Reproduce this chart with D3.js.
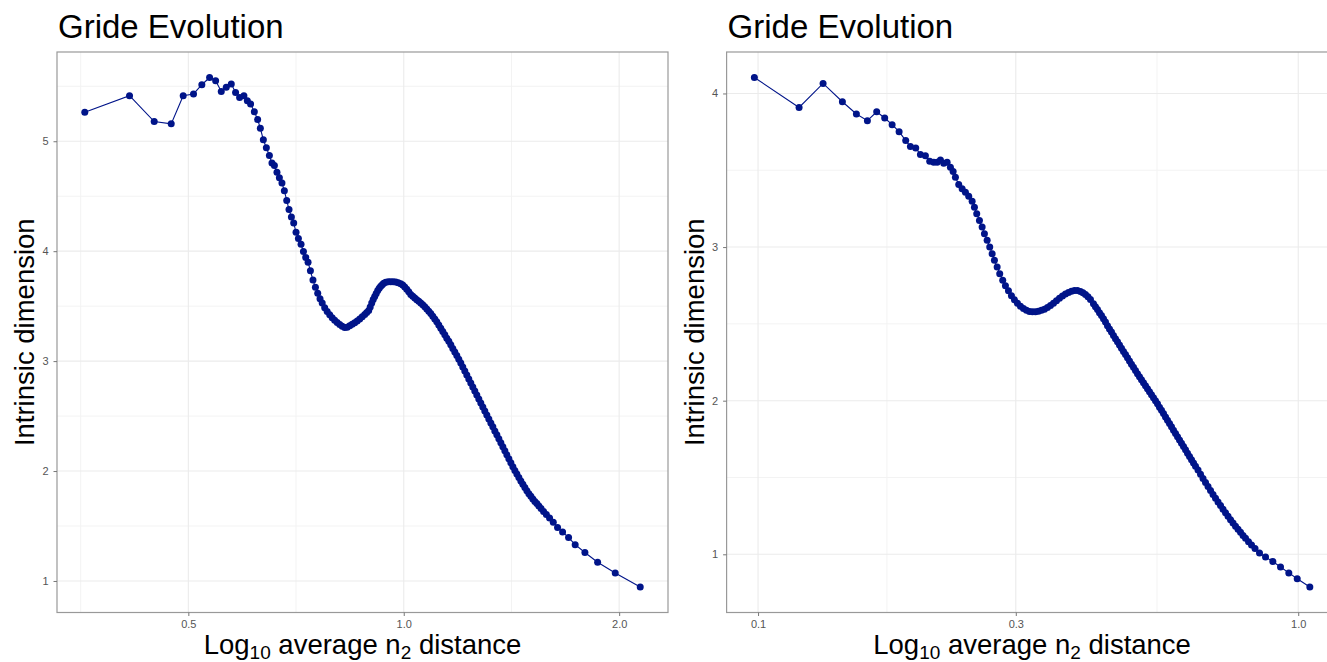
<!DOCTYPE html>
<html>
<head>
<meta charset="utf-8">
<script src="https://cdn.jsdelivr.net/npm/d3@7"></script>
<style>
  body { margin: 0; background: #fff; }
  text { font-family: "Liberation Sans", Arial, Helvetica, sans-serif; }
</style>
</head>
<body>
<script>
// left panel: average n2 distance vs gride id
var leftX = [0.3583, 0.4138, 0.4480, 0.4732, 0.4918, 0.5084, 0.5222, 0.5354, 0.5459, 0.5559,
  0.5649, 0.5741, 0.5821, 0.5897, 0.5979, 0.6045, 0.6109, 0.6183, 0.6249, 0.6304,
  0.6365, 0.6427, 0.6490, 0.6544, 0.6595, 0.6650, 0.6702, 0.6758, 0.6810, 0.6862,
  0.6913, 0.6966, 0.7018, 0.7071, 0.7125, 0.7186, 0.7241, 0.7295, 0.7350, 0.7406,
  0.7467, 0.7526, 0.7582, 0.7638,
  0.7692, 0.7754, 0.7816, 0.7880, 0.7943, 0.8007, 0.8072, 0.8138, 0.8203, 0.8270,
  0.8336, 0.8404, 0.8472, 0.8540, 0.8609, 0.8679, 0.8749, 0.8820, 0.8877, 0.8934,
  0.8977, 0.9021, 0.9064, 0.9108, 0.9152, 0.9197, 0.9241, 0.9286, 0.9331, 0.9376,
  0.9437, 0.9513, 0.9590, 0.9668, 0.9746, 0.9824, 0.9904, 0.9968, 1.0032, 1.0097,
  1.0162, 1.0228, 1.0294, 1.0361, 1.0428, 1.0495, 1.0563, 1.0631, 1.0700, 1.0769,
  1.0838, 1.0908, 1.0979, 1.1050, 1.1121, 1.1193, 1.1265, 1.1338, 1.1412, 1.1485,
  1.1560, 1.1634, 1.1709, 1.1785, 1.1861, 1.1938, 1.2015, 1.2092, 1.2171, 1.2249,
  1.2328, 1.2408, 1.2488, 1.2569, 1.2650, 1.2732, 1.2814, 1.2897, 1.2980, 1.3064,
  1.3149, 1.3234, 1.3319, 1.3405, 1.3492, 1.3579, 1.3667, 1.3755, 1.3844, 1.3934,
  1.4024, 1.4114, 1.4206, 1.4297, 1.4390, 1.4483, 1.4576, 1.4670, 1.4765, 1.4861,
  1.4957, 1.5053, 1.5150, 1.5248, 1.5347, 1.5446, 1.5555, 1.5681, 1.5823, 1.5987,
  1.6179, 1.6404, 1.6671, 1.6996, 1.7361, 1.7913, 1.8661, 1.9749, 2.1403];
var leftY = [5.263, 5.414, 5.179, 5.158, 5.414, 5.430, 5.514, 5.580, 5.550, 5.453,
  5.490, 5.520, 5.444, 5.399, 5.414, 5.369, 5.339, 5.269, 5.197, 5.118,
  5.013, 4.940, 4.870, 4.801, 4.780, 4.719, 4.668, 4.619, 4.550, 4.462,
  4.378, 4.311, 4.257, 4.172, 4.115, 4.063, 3.997, 3.943, 3.900, 3.821,
  3.737, 3.671, 3.617, 3.568,
  3.529, 3.486, 3.452, 3.422, 3.394, 3.372, 3.352, 3.334, 3.318, 3.306,
  3.309, 3.322, 3.335, 3.349, 3.365, 3.384, 3.403, 3.424, 3.442, 3.461,
  3.492, 3.529, 3.560, 3.588, 3.615, 3.642, 3.662, 3.680, 3.695, 3.708,
  3.717, 3.723, 3.723, 3.723, 3.719, 3.713, 3.704, 3.692, 3.674, 3.653,
  3.630, 3.607, 3.589, 3.574, 3.559, 3.545, 3.529, 3.512, 3.494, 3.474,
  3.454, 3.433, 3.409, 3.384, 3.358, 3.329, 3.299, 3.269, 3.239, 3.209,
  3.180, 3.148, 3.115, 3.083, 3.050, 3.016, 2.982, 2.946, 2.909, 2.873,
  2.837, 2.801, 2.764, 2.728, 2.692, 2.655, 2.619, 2.583, 2.547, 2.510,
  2.474, 2.438, 2.402, 2.365, 2.329, 2.293, 2.257, 2.220, 2.184, 2.148,
  2.112, 2.075, 2.040, 2.005, 1.974, 1.942, 1.910, 1.880, 1.851, 1.821,
  1.794, 1.770, 1.746, 1.724, 1.704, 1.683, 1.659, 1.632, 1.605, 1.572,
  1.534, 1.486, 1.446, 1.395, 1.330, 1.259, 1.171, 1.072, 0.945];

// right panel
var rightX = [0.09844, 0.11911, 0.13194, 0.14326, 0.15207, 0.15937, 0.16582, 0.17157, 0.17708, 0.18244,
  0.18765, 0.19145, 0.19583, 0.19979, 0.20410, 0.20787, 0.21145, 0.21454, 0.21758, 0.22066,
  0.22388, 0.22705, 0.22968, 0.23194, 0.23523, 0.23866, 0.24205, 0.24548, 0.24906, 0.25152,
  0.25399, 0.25694, 0.25991, 0.26247, 0.26551, 0.26847, 0.27123, 0.27390, 0.27708, 0.28016,
  0.28377, 0.28706, 0.29076, 0.29450, 0.29829, 0.30213, 0.30602, 0.30996, 0.31395, 0.31800,
  0.32209, 0.32624, 0.33044, 0.33469, 0.33900, 0.34337, 0.34779, 0.35226, 0.35680, 0.36140,
  0.36605, 0.37076, 0.37553, 0.38037, 0.38527, 0.39023, 0.39525, 0.39949, 0.40377, 0.40810,
  0.41247, 0.41778, 0.42136, 0.42497, 0.42861, 0.43228, 0.43598, 0.43972, 0.44348,
  0.44728, 0.45111, 0.45497, 0.45887, 0.46280, 0.46676, 0.47076, 0.47479, 0.47886, 0.48296,
  0.48710, 0.49127, 0.49548, 0.49972, 0.50400, 0.50832, 0.51267, 0.51706, 0.52149, 0.52596,
  0.53046, 0.53501, 0.53959, 0.54421, 0.54887, 0.55357, 0.55831, 0.56309, 0.56792, 0.57278,
  0.57769, 0.58263, 0.58762, 0.59266, 0.59773, 0.60285, 0.60801, 0.61322, 0.61847, 0.62377,
  0.62911, 0.63450, 0.63993, 0.64541, 0.65233, 0.65932, 0.66639, 0.67353, 0.68075, 0.68805,
  0.69542, 0.70288, 0.71041, 0.71803, 0.72572, 0.73350, 0.74136, 0.74931, 0.75734, 0.76546,
  0.77366, 0.78195, 0.79033, 0.79880, 0.80904, 0.81946, 0.83178, 0.84787, 0.86986, 0.89735,
  0.92731, 0.96071, 0.99575, 1.05070];
var rightY = [4.104, 3.909, 4.065, 3.946, 3.866, 3.823, 3.881, 3.840, 3.797, 3.751,
  3.693, 3.654, 3.645, 3.602, 3.595, 3.558, 3.552, 3.552, 3.567, 3.545,
  3.552, 3.519, 3.492, 3.455, 3.407, 3.379, 3.357, 3.331, 3.299, 3.260,
  3.217, 3.173, 3.130, 3.087, 3.044, 3.000, 2.957, 2.914, 2.870, 2.827,
  2.784, 2.748, 2.716, 2.683, 2.657, 2.634, 2.615, 2.600, 2.589, 2.581,
  2.579, 2.579, 2.582, 2.588, 2.595, 2.606, 2.619, 2.634, 2.651, 2.667,
  2.681, 2.694, 2.705, 2.712, 2.717, 2.717, 2.711, 2.702, 2.692, 2.677,
  2.658, 2.631, 2.612, 2.593, 2.573, 2.554, 2.534, 2.512, 2.488,
  2.467, 2.447, 2.425, 2.404, 2.383, 2.362, 2.342, 2.321, 2.300, 2.279,
  2.259, 2.238, 2.218, 2.197, 2.176, 2.156, 2.136, 2.117, 2.097, 2.078,
  2.058, 2.039, 2.019, 2.000, 1.980, 1.958, 1.937, 1.916, 1.894, 1.873,
  1.851, 1.830, 1.808, 1.787, 1.765, 1.744, 1.723, 1.701, 1.680, 1.658,
  1.637, 1.615, 1.595, 1.574, 1.548, 1.521, 1.494, 1.468, 1.442, 1.416,
  1.390, 1.365, 1.341, 1.317, 1.294, 1.270, 1.248, 1.225, 1.204, 1.183,
  1.163, 1.143, 1.123, 1.105, 1.082, 1.061, 1.037, 1.008, 0.982, 0.953,
  0.917, 0.879, 0.841, 0.787];

// breaks
var leftXTicks = [0.5, 1.0, 2.0];
var leftXMinor = [0.3536, 0.7071, 1.4142];
var leftYTicks = [1, 2, 3, 4, 5];
var leftYMinor = [1.5, 2.5, 3.5, 4.5, 5.5];
var rightXTicks = [0.1, 0.3, 1.0];
var rightXMinor = [0.1732, 0.5477];
var rightYTicks = [1, 2, 3, 4];
var rightYMinor = [1.5, 2.5, 3.5];

var titleText = "Gride Evolution";
var yTitleText = "Intrinsic dimension";

var w = 1327, h = 662;
var col = "#001489";

var svg = d3.select("body")
  .append("svg")
  .attr("width", w)
  .attr("height", h);

svg.append("rect").attr("width", w).attr("height", h).attr("fill", "#fff");

//ggplot style 5% expansion of the data range
function expandLog(v) {
  var lo = Math.log10(d3.min(v)), hi = Math.log10(d3.max(v));
  var p = (hi - lo) * 0.05;
  return [Math.pow(10, lo - p), Math.pow(10, hi + p)];
}
function expandLin(v) {
  var lo = d3.min(v), hi = d3.max(v);
  var p = (hi - lo) * 0.05;
  return [lo - p, hi + p];
}

function drawPanel(xs, ys, xTicks, xMinor, yTicks, yMinor, box) {
  var g = svg.append("g");
  var x = d3.scaleLog().domain(expandLog(xs)).range([box.x0, box.x1]);
  var y = d3.scaleLinear().domain(expandLin(ys)).range([box.y1, box.y0]);
  var pts = xs.map(function(d, i) { return [d, ys[i]]; });

  // minor grid
  g.selectAll(".xminor").data(xMinor).enter().append("line")
    .attr("x1", function(d) { return x(d); }).attr("x2", function(d) { return x(d); })
    .attr("y1", box.y0).attr("y2", box.y1)
    .attr("stroke", "#f3f3f3").attr("stroke-width", 1);
  g.selectAll(".yminor").data(yMinor).enter().append("line")
    .attr("y1", function(d) { return y(d); }).attr("y2", function(d) { return y(d); })
    .attr("x1", box.x0).attr("x2", box.x1)
    .attr("stroke", "#f3f3f3").attr("stroke-width", 1);
  // major grid
  g.selectAll(".xmajor").data(xTicks).enter().append("line")
    .attr("x1", function(d) { return x(d); }).attr("x2", function(d) { return x(d); })
    .attr("y1", box.y0).attr("y2", box.y1)
    .attr("stroke", "#ebebeb").attr("stroke-width", 1.1);
  g.selectAll(".ymajor").data(yTicks).enter().append("line")
    .attr("y1", function(d) { return y(d); }).attr("y2", function(d) { return y(d); })
    .attr("x1", box.x0).attr("x2", box.x1)
    .attr("stroke", "#ebebeb").attr("stroke-width", 1.1);

  // line + points
  g.append("path")
    .datum(pts)
    .attr("fill", "none")
    .attr("stroke", col)
    .attr("stroke-width", 1.1)
    .attr("d", d3.line().x(function(d) { return x(d[0]); }).y(function(d) { return y(d[1]); }));

  g.selectAll(".pt").data(pts).enter().append("circle")
    .attr("cx", function(d) { return x(d[0]); })
    .attr("cy", function(d) { return y(d[1]); })
    .attr("r", 3.5)
    .attr("fill", col);

  // border
  g.append("rect")
    .attr("x", box.x0).attr("y", box.y0)
    .attr("width", box.x1 - box.x0).attr("height", box.y1 - box.y0)
    .attr("fill", "none").attr("stroke", "#999").attr("stroke-width", 1.2);

  // axes
  var xa = g.append("g").attr("transform", "translate(0," + box.y1 + ")")
    .call(d3.axisBottom(x).tickValues(xTicks).tickFormat(d3.format(".1f"))
      .tickSize(3.5).tickSizeOuter(0).tickPadding(4));
  var ya = g.append("g").attr("transform", "translate(" + box.x0 + ",0)")
    .call(d3.axisLeft(y).tickValues(yTicks).tickFormat(d3.format("d"))
      .tickSize(3.5).tickSizeOuter(0).tickPadding(5));
  [xa, ya].forEach(function(a) {
    a.select(".domain").remove();
    a.selectAll("line").attr("stroke", "#777");
    a.selectAll("text").attr("fill", "#555").style("font-size", "11px")
      .style("font-family", "'Liberation Sans', Arial, sans-serif");
  });

  // titles
  g.append("text")
    .attr("x", box.x0 + 1).attr("y", 38)
    .style("font-size", "33px").attr("fill", "#000")
    .text(titleText);

  var xt = g.append("text")
    .attr("x", (box.x0 + box.x1) / 2).attr("y", 654)
    .attr("text-anchor", "middle")
    .style("font-size", "27.5px").attr("fill", "#000");
  xt.append("tspan").text("Log");
  xt.append("tspan").attr("dy", 5).style("font-size", "19px").text("10");
  xt.append("tspan").attr("dy", -5).text(" average n");
  xt.append("tspan").attr("dy", 5).style("font-size", "19px").text("2");
  xt.append("tspan").attr("dy", -5).text(" distance");

  g.append("text")
    .attr("transform", "translate(" + (box.x0 - 23) + "," + ((box.y0 + box.y1) / 2) + ") rotate(-90)")
    .attr("text-anchor", "middle")
    .style("font-size", "27.5px").attr("fill", "#000")
    .text(yTitleText);
}

drawPanel(leftX, leftY, leftXTicks, leftXMinor, leftYTicks, leftYMinor,
  { x0: 57, x1: 668, y0: 52, y1: 612.5 });
drawPanel(rightX, rightY, rightXTicks, rightXMinor, rightYTicks, rightYMinor,
  { x0: 726.6, x1: 1337.6, y0: 52, y1: 612.5 });
</script>
</body>
</html>
